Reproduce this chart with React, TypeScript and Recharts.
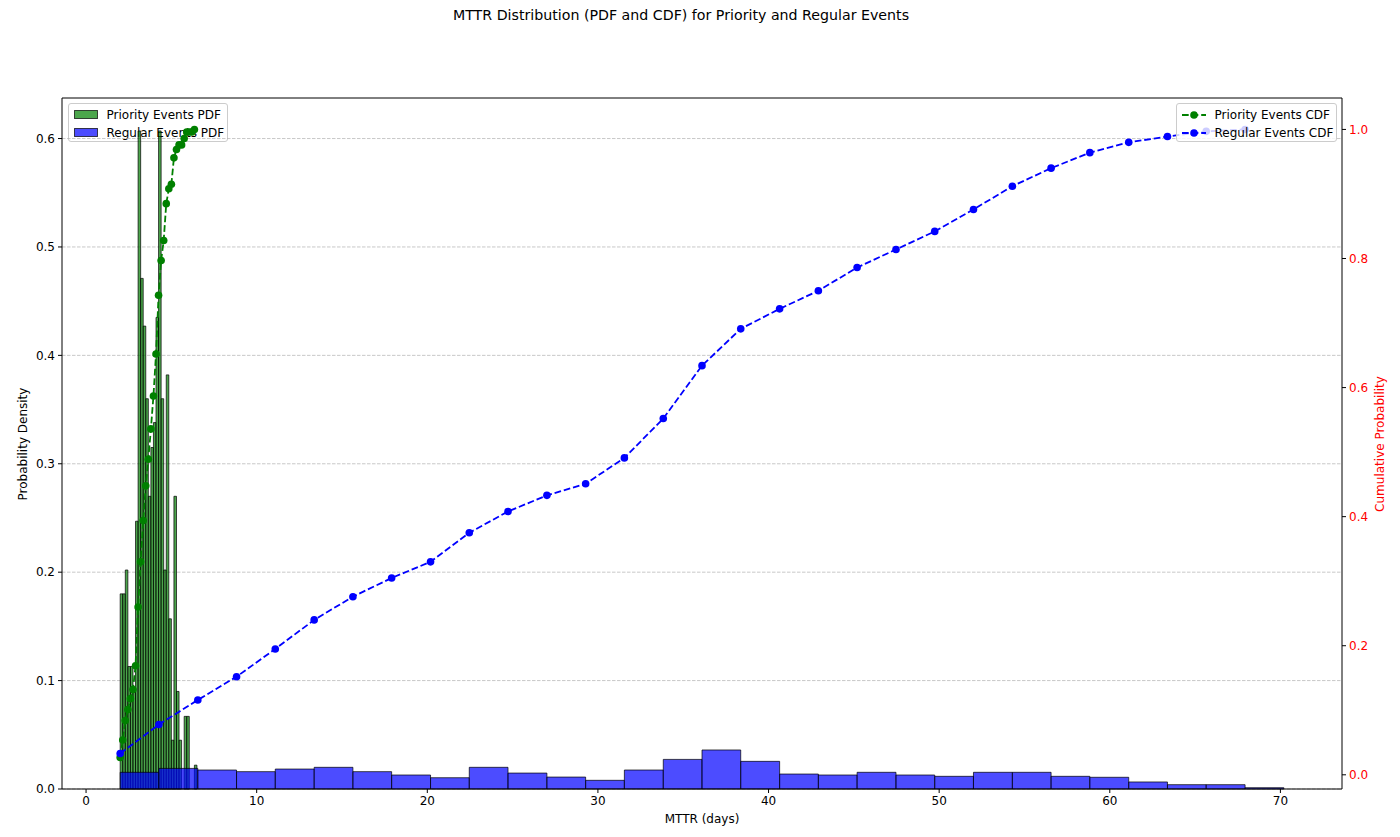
import React from 'react'
import { ComposedChart, Line, XAxis, YAxis, CartesianGrid, ReferenceArea } from 'recharts'

// bin edges (days)
const priorityEdges = [
  2.0, 2.15, 2.3, 2.45, 2.6, 2.75, 2.9, 3.05, 3.2, 3.35, 3.5, 3.65, 3.8, 3.95, 4.1, 4.25,
  4.4, 4.55, 4.7, 4.85, 5.0, 5.15, 5.3, 5.45, 5.6, 5.75, 5.9, 6.05, 6.2, 6.35, 6.5,
]
const priorityDensity = [
  0.18, 0.18, 0.202, 0.113, 0.113, 0.09, 0.247, 0.607, 0.471, 0.427, 0.36, 0.27, 0.315, 0.338, 0.435,
  0.607, 0.36, 0.202, 0.382, 0.157, 0.045, 0.27, 0.09, 0.045, 0, 0.067, 0.067, 0, 0, 0.022,
]
const priorityCdf = [
  0.027, 0.054, 0.084, 0.101, 0.118, 0.132, 0.169, 0.26, 0.33, 0.394, 0.448, 0.489, 0.536, 0.587, 0.652,
  0.743, 0.797, 0.828, 0.885, 0.908, 0.915, 0.956, 0.969, 0.976, 0.976, 0.986, 0.996, 0.996, 0.996, 1.0,
]

const regularEdges = [
  2.0, 4.27, 6.55, 8.82, 11.09, 13.37, 15.64, 17.91, 20.19, 22.46, 24.73, 27.01, 29.28, 31.55, 33.83, 36.1,
  38.37, 40.65, 42.92, 45.19, 47.47, 49.74, 52.01, 54.29, 56.56, 58.83, 61.11, 63.38, 65.65, 67.93, 70.2,
]
const regularDensity = [
  0.0154, 0.019, 0.0175, 0.016, 0.0184, 0.02, 0.016, 0.0129, 0.0104, 0.02, 0.0147, 0.011, 0.008, 0.0175, 0.0273,
  0.036, 0.0255, 0.0138, 0.0129, 0.0154, 0.0129, 0.0117, 0.0154, 0.0154, 0.0117, 0.0108, 0.0065, 0.004, 0.004, 0.0012,
]
const regularCdf = [
  0.033, 0.078, 0.116, 0.152, 0.195, 0.24, 0.276, 0.305, 0.33, 0.375, 0.408, 0.433, 0.451, 0.491, 0.552,
  0.634, 0.691, 0.722, 0.75, 0.786, 0.814, 0.842, 0.876, 0.912, 0.94, 0.964, 0.98, 0.989, 0.997, 1.0,
]

const xTicks = [0, 10, 20, 30, 40, 50, 60, 70]
const pdfTicks = [0, 0.1, 0.2, 0.3, 0.4, 0.5, 0.6]
const cdfTicks = [0, 0.2, 0.4, 0.6, 0.8, 1.0]

const FONT = "'DejaVu Sans', sans-serif"
const GREEN = '#008000'
const BLUE = '#0000ff'
const X_DOMAIN = [-1.41, 73.61]

const priorityCdfRows = priorityCdf.map((v, i) => ({ x: priorityEdges[i], cdf: v }))
const regularCdfRows = regularCdf.map((v, i) => ({ x: regularEdges[i], cdf: v }))

const tickStyle = { fontSize: 12, fill: '#000', fontFamily: FONT }
const fmt1 = (v: number) => v.toFixed(1)

function PatchHandle({ color }: { color: string }) {
  return (
    <svg width={24} height={9} style={{ position: 'absolute', left: 5, top: -4.5 }}>
      <rect x={0.5} y={0.5} width={23} height={8} fill={color} fillOpacity={0.7} stroke="#000" strokeOpacity={0.7} />
    </svg>
  )
}

function LineHandle({ color }: { color: string }) {
  return (
    <svg width={26} height={10} style={{ position: 'absolute', left: 4, top: -5 }}>
      <line x1={1} y1={5} x2={25} y2={5} stroke={color} strokeWidth={1.8} strokeDasharray="6.7 2.9" />
      <circle cx={13} cy={5} r={3.8} fill={color} />
    </svg>
  )
}

function LegendBox({ left, top, width, items }: {
  left: number; top: number; width: number
  items: { label: string; color: string; kind: 'patch' | 'line' }[]
}) {
  return (
    <div style={{
      position: 'absolute', left, top, width, height: 39, boxSizing: 'border-box',
      background: 'rgba(255,255,255,0.8)', border: '1px solid #cccccc', borderRadius: 3,
    }}>
      {items.map((it, i) => (
        <div key={it.label} style={{ position: 'absolute', left: 0, top: 10.5 + i * 18, width: '100%' }}>
          {it.kind === 'patch' ? <PatchHandle color={it.color} /> : <LineHandle color={it.color} />}
          <span style={{
            position: 'absolute', left: 38, top: -8,
            fontSize: 12, lineHeight: '16px', whiteSpace: 'nowrap', color: '#000',
          }}>{it.label}</span>
        </div>
      ))}
    </div>
  )
}

export default function App() {
  return (
    <div style={{
      position: 'absolute', left: 0, top: 0, width: 1400, height: 837,
      background: '#fff', fontFamily: FONT, overflow: 'hidden',
    }}>
      <div style={{
        position: 'absolute', left: 681, top: 15, transform: 'translate(-50%, -50%)',
        fontSize: 14.2, whiteSpace: 'nowrap', color: '#000',
      }}>
        MTTR Distribution (PDF and CDF) for Priority and Regular Events
      </div>

      <LegendBox
        left={67.5} top={103} width={160}
        items={[
          { label: 'Priority Events PDF', color: GREEN, kind: 'patch' },
          { label: 'Regular Events PDF', color: BLUE, kind: 'patch' },
        ]}
      />

      <ComposedChart width={1400} height={837} margin={{ top: 97, right: 0, bottom: 0, left: 0 }}>
        <CartesianGrid
          yAxisId="left" xAxisId="x" vertical={false} horizontalPoints={[]}
          syncWithTicks stroke="#b0b0b0" strokeOpacity={0.7} strokeDasharray="3.5 1.5"
        />
        <XAxis
          xAxisId="x" dataKey="x" type="number" domain={X_DOMAIN} ticks={xTicks}
          allowDataOverflow height={48} tickSize={4} tickMargin={3} interval={0}
          tick={tickStyle} axisLine={{ stroke: '#000' }} tickLine={{ stroke: '#000' }}
        />
        <XAxis
          xAxisId="top" orientation="top" type="number" domain={X_DOMAIN} allowDataOverflow
          height={1} tick={false} tickLine={false} axisLine={{ stroke: '#000' }}
        />
        <YAxis
          yAxisId="left" type="number" domain={[0, 0.6374]} ticks={pdfTicks} allowDataOverflow
          width={62} tickSize={4} tickMargin={3} interval={0} tickFormatter={fmt1}
          tick={tickStyle} axisLine={{ stroke: '#000' }} tickLine={{ stroke: '#000' }}
        />
        <YAxis
          yAxisId="right" orientation="right" type="number" domain={[-0.022, 1.0487]} ticks={cdfTicks}
          allowDataOverflow width={58} tickSize={4} tickMargin={3} interval={0} tickFormatter={fmt1}
          tick={{ ...tickStyle, fill: '#ff0000' }} axisLine={{ stroke: '#000' }} tickLine={{ stroke: '#000' }}
        />

        {priorityDensity.map((d, i) => d > 0 ? (
          <ReferenceArea
            key={'p' + i} xAxisId="x" yAxisId="left"
            x1={priorityEdges[i]} x2={priorityEdges[i + 1]} y1={0} y2={d}
            fill={GREEN} fillOpacity={0.7} stroke="#000" strokeOpacity={0.7} strokeWidth={1}
          />
        ) : null)}
        {regularDensity.map((d, i) => (
          <ReferenceArea
            key={'r' + i} xAxisId="x" yAxisId="left"
            x1={regularEdges[i]} x2={regularEdges[i + 1]} y1={0} y2={d}
            fill={BLUE} fillOpacity={0.7} stroke="#000" strokeOpacity={0.7} strokeWidth={1}
          />
        ))}

        <Line
          data={priorityCdfRows} dataKey="cdf" xAxisId="x" yAxisId="right"
          stroke={GREEN} strokeWidth={1.8} strokeDasharray="6.7 2.9"
          dot={{ r: 3.8, fill: GREEN, stroke: 'none', strokeWidth: 0 }} activeDot={false}
          isAnimationActive={false}
        />
        <Line
          data={regularCdfRows} dataKey="cdf" xAxisId="x" yAxisId="right"
          stroke={BLUE} strokeWidth={1.8} strokeDasharray="6.7 2.9"
          dot={{ r: 3.8, fill: BLUE, stroke: 'none', strokeWidth: 0 }} activeDot={false}
          isAnimationActive={false}
        />
      </ComposedChart>

      <LegendBox
        left={1175.5} top={103} width={161}
        items={[
          { label: 'Priority Events CDF', color: GREEN, kind: 'line' },
          { label: 'Regular Events CDF', color: BLUE, kind: 'line' },
        ]}
      />

      <div style={{
        position: 'absolute', left: 702, top: 819, transform: 'translate(-50%, -50%)',
        fontSize: 12, whiteSpace: 'nowrap', color: '#000',
      }}>MTTR (days)</div>
      <div style={{
        position: 'absolute', left: 23, top: 443.5, transform: 'translate(-50%, -50%) rotate(-90deg)',
        fontSize: 12, whiteSpace: 'nowrap', color: '#000',
      }}>Probability Density</div>
      <div style={{
        position: 'absolute', left: 1380, top: 443.5, transform: 'translate(-50%, -50%) rotate(-90deg)',
        fontSize: 12, whiteSpace: 'nowrap', color: '#ff0000',
      }}>Cumulative Probability</div>
    </div>
  )
}
